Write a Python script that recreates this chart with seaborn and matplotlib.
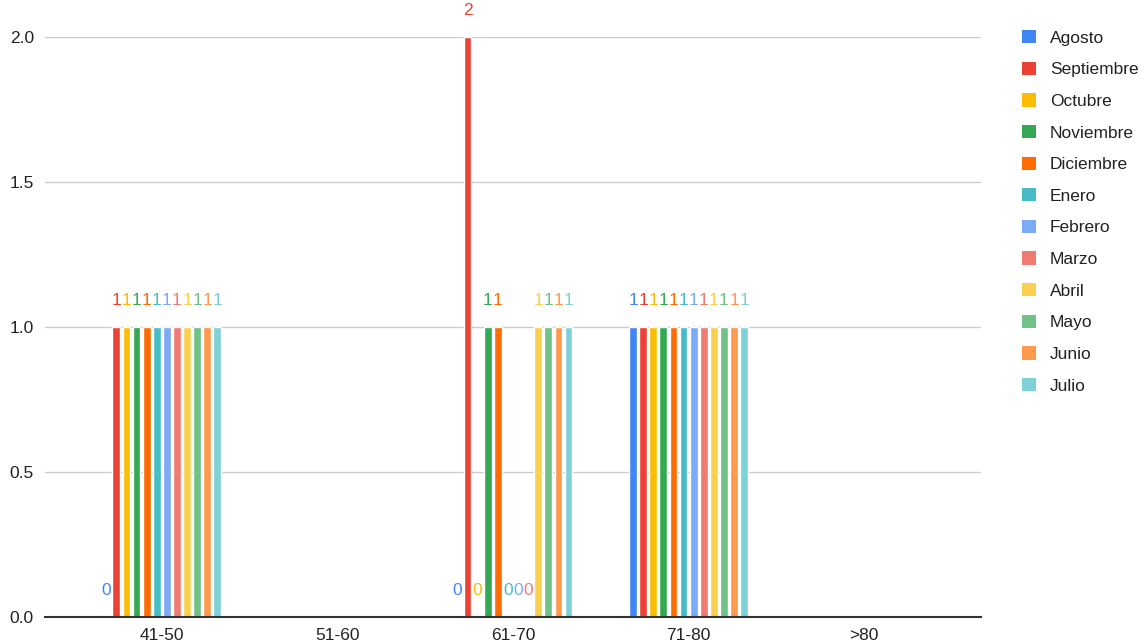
import numpy as np
import pandas as pd
import matplotlib
matplotlib.use("Agg")
import matplotlib.pyplot as plt
from matplotlib.patches import Patch
import seaborn as sns

# Age groups (x axis) and months (series)
grupos = ["41-50", "51-60", "61-70", "71-80", ">80"]
meses = ["Agosto", "Septiembre", "Octubre", "Noviembre", "Diciembre", "Enero",
         "Febrero", "Marzo", "Abril", "Mayo", "Junio", "Julio"]

# Patients per month in each age group (NaN = no entry)
nan = np.nan
g_41_50 = [0, 1, 1, 1, 1, 1, 1, 1, 1, 1, 1, 1]
g_51_60 = [nan] * 12
g_61_70 = [0, 2, 0, 1, 1, 0, 0, 0, 1, 1, 1, 1]
g_71_80 = [1, 1, 1, 1, 1, 1, 1, 1, 1, 1, 1, 1]
g_80_mas = [nan] * 12

colores = ["#4285F4", "#EA4335", "#FBBC04", "#34A853", "#FF6D01", "#46BDC6",
           "#7BAAF7", "#F07B72", "#FCD04F", "#71C287", "#FF994D", "#7ED1D7"]

valores = [g_41_50, g_51_60, g_61_70, g_71_80, g_80_mas]
filas = []
for grupo, serie in zip(grupos, valores):
    for mes, v in zip(meses, serie):
        filas.append({"grupo": grupo, "mes": mes, "pacientes": v})
df = pd.DataFrame(filas).dropna()

sns.set_style("white")
plt.rcParams["font.family"] = ["Liberation Sans", "DejaVu Sans"]
FS = 12.5
TXT = "#222222"

fig = plt.figure(figsize=(11.45, 6.43), dpi=100)
ax = fig.add_axes([45 / 1145, 1 - 617 / 643, 936 / 1145, 580 / 643])

paleta = dict(zip(meses, colores))
sns.barplot(data=df, x="grupo", y="pacientes", hue="mes", order=grupos,
            hue_order=meses, palette=paleta, width=0.69, gap=0.22,
            errorbar=None, legend=False, saturation=1, ax=ax)

# Value labels above each bar, in the series colour
for cont, color in zip(ax.containers, colores):
    for bar in cont:
        h = bar.get_height()
        if np.isnan(h):
            continue
        x = bar.get_x() + bar.get_width() / 2
        ax.annotate(f"{h:.0f}", xy=(x, h), xytext=(0, 19.1),
                    textcoords="offset points", ha="center", va="center",
                    color=color, fontsize=FS, annotation_clip=False)

ax.set_xlim(-0.665, 4.665)
ax.set_ylim(0, 2.0)
ax.set_yticks([0, 0.5, 1.0, 1.5, 2.0])
ax.set_yticklabels(["0.0", "0.5", "1.0", "1.5", "2.0"])
ax.yaxis.grid(True, color="#cccccc", linewidth=1)
ax.set_axisbelow(True)
ax.set_xlabel("")
ax.set_ylabel("")
for s in ["top", "right", "left"]:
    ax.spines[s].set_visible(False)
ax.spines["bottom"].set_color("#333333")
ax.spines["bottom"].set_linewidth(1.5)
ax.spines["bottom"].set_zorder(5)
ax.tick_params(axis="both", length=0, labelsize=FS, labelcolor=TXT)
ax.tick_params(axis="y", pad=8)
ax.tick_params(axis="x", pad=8)

handles = [Patch(facecolor=c, edgecolor="none") for c in colores]
fig.legend(handles, meses, loc="upper left", bbox_to_anchor=(1015 / 1145, 1 - 23 / 643),
           frameon=False, fontsize=FS, labelcolor=TXT, handlelength=0.8,
           handleheight=0.8, handletextpad=0.8, labelspacing=0.92,
           borderaxespad=0, borderpad=0.4)

fig.savefig("out.png", dpi=100)
